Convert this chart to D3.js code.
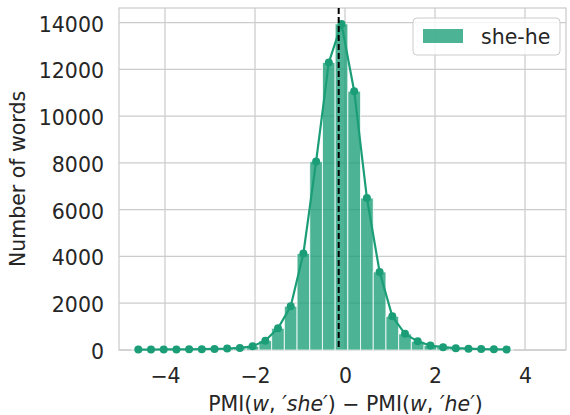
<!DOCTYPE html>
<html lang="en">
<head>
<meta charset="UTF-8">
<title>pmi_hist</title>
<script src="https://cdn.jsdelivr.net/npm/d3@7"></script>
<style>
  body { margin: 0; background: #fff; }
  text { font-family: "DejaVu Sans", sans-serif; fill: #262626; }
  .tick text { font-size: 20.5px; }
</style>
</head>
<body>
<svg width="570" height="415" id="mainsvg"></svg>
<script>
// histogram bins: lower edge of first bin and bin width (PMI difference units)
const binStart = -4.734;
const binWidth = 0.2822;
// word counts per bin
const counts = [20, 20, 25, 25, 30, 35, 45, 60, 90, 160,
                400, 930, 1870, 4130, 8060, 12300, 13950, 11070, 6500, 3340,
                1440, 690, 370, 190, 120, 80, 55, 40, 30, 25];
const meanLine = -0.14;
const xTicks = [-4, -2, 0, 2, 4];
const yTicks = [0, 2000, 4000, 6000, 8000, 10000, 12000, 14000];
const seriesName = 'she-he';

const svg = d3.select('svg');
const margin = {top: 8, right: 4, bottom: 65, left: 119};
const width = +svg.attr('width');
const height = +svg.attr('height');
const innerWidth = width - margin.left - margin.right;
const innerHeight = height - margin.top - margin.bottom;
const color = '#1b9e77';

const bins = counts.map((c, i) => ({
    x0: binStart + i * binWidth,
    x1: binStart + (i + 1) * binWidth,
    count: c
}));

const xScale = d3.scaleLinear().domain([-5.022, 4.911]).range([0, innerWidth]);
const yScale = d3.scaleLinear().domain([0, 14630]).range([innerHeight, 0]);

const g = svg.append('g').attr('transform', `translate(${margin.left}, ${margin.top})`);

// grid
g.append('g').selectAll('line').data(xTicks).enter().append('line')
    .attr('x1', d => xScale(d)).attr('x2', d => xScale(d))
    .attr('y1', 0).attr('y2', innerHeight)
    .attr('stroke', '#cccccc').attr('stroke-width', 1.25);
g.append('g').selectAll('line').data(yTicks).enter().append('line')
    .attr('y1', d => yScale(d)).attr('y2', d => yScale(d))
    .attr('x1', 0).attr('x2', innerWidth)
    .attr('stroke', '#cccccc').attr('stroke-width', 1.25);

// frame
g.append('rect').attr('width', innerWidth).attr('height', innerHeight)
    .attr('fill', 'none').attr('stroke', '#cccccc').attr('stroke-width', 1.25);

// bars
g.append('g').selectAll('rect').data(bins).enter().append('rect')
    .attr('x', d => xScale(d.x0))
    .attr('width', d => xScale(d.x1) - xScale(d.x0))
    .attr('y', d => yScale(d.count))
    .attr('height', d => yScale(0) - yScale(d.count))
    .attr('fill', color).attr('fill-opacity', 0.78)
    .attr('stroke', '#ffffff').attr('stroke-opacity', 0.8).attr('stroke-width', 1);

// line with markers at bin centres
const line = d3.line()
    .x(d => xScale((d.x0 + d.x1) / 2))
    .y(d => yScale(d.count));
g.append('path').datum(bins)
    .attr('d', line).attr('fill', 'none')
    .attr('stroke', color).attr('stroke-width', 2.2);
g.append('g').selectAll('circle').data(bins).enter().append('circle')
    .attr('cx', d => xScale((d.x0 + d.x1) / 2))
    .attr('cy', d => yScale(d.count))
    .attr('r', 4).attr('fill', color);

// mean line
g.append('line')
    .attr('x1', xScale(meanLine)).attr('x2', xScale(meanLine))
    .attr('y1', 0).attr('y2', innerHeight)
    .attr('stroke', 'black').attr('stroke-width', 2)
    .attr('stroke-dasharray', '6,3');

// tick labels
const xAxis = d3.axisBottom(xScale).tickValues(xTicks).tickSize(0).tickPadding(18)
    .tickFormat(d => d3.format('')(d).replace('-', '\u2212'));
const xAxisGroup = g.append('g').attr('transform', `translate(0, ${innerHeight})`).call(xAxis);
const yAxis = d3.axisLeft(yScale).tickValues(yTicks).tickSize(0).tickPadding(15)
    .tickFormat(d3.format('d'));
const yAxisGroup = g.append('g').call(yAxis);
[xAxisGroup, yAxisGroup].forEach(a => {
    a.attr('font-size', null).attr('font-family', null);
    a.select('.domain').remove();
    a.selectAll('.tick text').style('font-size', '20.5px').attr('fill', '#262626');
});
yAxisGroup.selectAll('.tick text').attr('dy', '0.41em');

// axis titles
g.append('text')
    .attr('transform', `translate(${-94}, ${innerHeight / 2}) rotate(-90)`)
    .attr('text-anchor', 'middle')
    .style('font-size', '20.5px')
    .text('Number of words');

const xt = g.append('text')
    .attr('x', innerWidth / 2 + 3).attr('y', innerHeight + 61)
    .attr('text-anchor', 'middle')
    .style('font-size', '20.5px');
[['PMI(', 'normal'], ['w', 'italic'], [', ', 'normal'], ['\u2032she\u2032', 'italic'],
 [') \u2212 PMI(', 'normal'], ['w', 'italic'], [', ', 'normal'], ['\u2032he\u2032', 'italic'], [')', 'normal']]
    .forEach(p => xt.append('tspan').attr('font-style', p[1]).text(p[0]));

// legend
const lg = g.append('g').attr('transform', `translate(${413 - margin.left}, ${18 - margin.top})`);
lg.append('rect').attr('width', 147).attr('height', 37).attr('rx', 4)
    .attr('fill', 'white').attr('fill-opacity', 0.8)
    .attr('stroke', '#cccccc').attr('stroke-width', 1);
lg.append('rect').attr('x', 10).attr('y', 11).attr('width', 40).attr('height', 14)
    .attr('fill', color).attr('fill-opacity', 0.78);
lg.append('text').attr('x', 68).attr('y', 25.5)
    .style('font-size', '20.5px').text(seriesName);
</script>
</body>
</html>
